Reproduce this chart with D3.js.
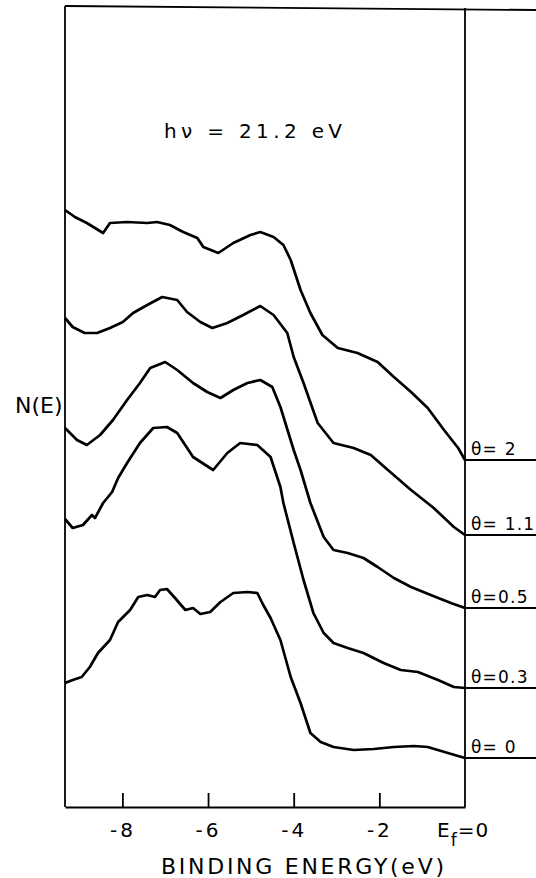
<!DOCTYPE html>
<html><head><meta charset="utf-8">
<script src="https://cdn.jsdelivr.net/npm/d3@7"></script>
<style>body{margin:0;background:#fff}svg{display:block}</style>
</head><body><div id="chart"></div>
<script>
// Binding energy (eV) and N(E) (arbitrary units, curves offset vertically)
const thetaLabels = ["θ= 2", "θ= 1.1", "θ=0.5", "θ=0.3", "θ= 0"];
const xTicks = [-8, -6, -4, -2];
const xTickLabels = ["-8", "-6", "-4", "-2"];

const theta2 = [[-9.34,597],[-9.11,590],[-8.83,584],[-8.45,574],[-8.29,584],[-7.89,585],[-7.42,584],[-7.19,585],[-6.89,582],[-6.58,575],[-6.25,569],[-6.11,560],[-5.76,554],[-5.41,564],[-5.01,572],[-4.78,575],[-4.47,570],[-4.24,562],[-4.07,547],[-3.84,517],[-3.61,494],[-3.33,472],[-2.97,459],[-2.51,454],[-2.04,445],[-1.66,430],[-1.26,415],[-0.87,399],[-0.49,377],[-0.16,359],[0,347]];
const theta11 = [[-9.34,489],[-9.16,480],[-8.88,474],[-8.59,474],[-8.29,479],[-7.99,485],[-7.75,494],[-7.42,502],[-7.07,510],[-6.72,507],[-6.49,495],[-6.18,485],[-5.90,479],[-5.55,484],[-5.18,492],[-4.78,501],[-4.47,492],[-4.15,474],[-4.00,450],[-3.77,424],[-3.44,384],[-3.07,364],[-2.60,359],[-2.20,352],[-1.80,337],[-1.26,317],[-0.73,299],[-0.26,280],[0,272]];
const theta05 = [[-9.34,379],[-9.06,367],[-8.83,362],[-8.52,372],[-8.22,387],[-7.89,407],[-7.59,424],[-7.35,439],[-7.00,445],[-6.72,437],[-6.35,424],[-6.02,415],[-5.71,409],[-5.41,417],[-5.08,424],[-4.78,427],[-4.50,420],[-4.31,400],[-4.00,357],[-3.84,337],[-3.61,304],[-3.30,270],[-3.07,257],[-2.74,254],[-2.37,249],[-2.04,240],[-1.66,229],[-1.26,220],[-0.80,212],[-0.33,204],[0,199]];
const theta03 = [[-9.34,288],[-9.16,279],[-8.92,282],[-8.71,292],[-8.64,289],[-8.45,304],[-8.24,315],[-8.10,329],[-7.89,344],[-7.59,364],[-7.28,379],[-6.96,380],[-6.72,374],[-6.35,350],[-5.88,337],[-5.55,354],[-5.25,364],[-4.85,362],[-4.54,350],[-4.31,320],[-4.24,304],[-4.00,264],[-3.77,227],[-3.54,194],[-3.30,174],[-3.07,164],[-2.74,159],[-2.37,154],[-1.90,144],[-1.50,137],[-1.10,135],[-0.63,127],[-0.26,120],[0,119]];
const theta0 = [[-9.34,124],[-9.16,127],[-8.95,130],[-8.76,140],[-8.57,154],[-8.29,167],[-8.10,185],[-7.82,197],[-7.63,210],[-7.42,212],[-7.24,210],[-7.12,217],[-6.96,218],[-6.77,209],[-6.53,197],[-6.35,199],[-6.18,193],[-5.95,195],[-5.71,205],[-5.41,214],[-5.08,215],[-4.85,214],[-4.71,202],[-4.54,189],[-4.31,167],[-4.07,130],[-3.84,104],[-3.61,74],[-3.37,65],[-3.07,60],[-2.60,57],[-2.13,58],[-1.66,60],[-1.19,61],[-0.87,60],[-0.40,54],[0,49]];
const seriesList = [theta2, theta11, theta05, theta03, theta0];

const W = 536, H = 878;
const svg = d3.select("#chart").append("svg").attr("width", W).attr("height", H);
const FONT = "'DejaVu Sans', sans-serif";

const x = d3.scaleLinear().domain([-9.34, 0]).range([65, 465]);
const y = d3.scaleLinear().domain([0, 800]).range([807, 7]);

// frame
const frame = svg.append("g").attr("stroke", "#000").attr("fill", "none").attr("stroke-width", 1.8);
frame.append("line").attr("x1", x(-9.34)).attr("x2", x(-9.34)).attr("y1", 6).attr("y2", y(0));
frame.append("line").attr("x1", x(-9.34)).attr("x2", W).attr("y1", 6).attr("y2", 10);
frame.append("line").attr("x1", x(0)).attr("x2", x(0)).attr("y1", 8).attr("y2", y(0));

// bottom axis
const axis = d3.axisBottom(x).tickValues(xTicks).tickSizeInner(-14).tickSizeOuter(0)
  .tickPadding(16).tickFormat((d, i) => xTickLabels[i]);
const gAx = svg.append("g").attr("transform", `translate(0,${y(0)})`).call(axis);
gAx.select(".domain").attr("stroke-width", 1.8);
gAx.selectAll(".tick line").attr("stroke-width", 1.8);
gAx.selectAll(".tick text").attr("font-family", FONT).attr("font-size", 20)
  .attr("letter-spacing", 3).attr("fill", "#000");

// E_f = 0 label
const ef = svg.append("text").attr("x", 437).attr("y", 837).attr("font-family", FONT).attr("font-size", 20).attr("letter-spacing", 1);
ef.append("tspan").text("E");
ef.append("tspan").attr("font-size", 17).attr("dy", 9).text("f");
ef.append("tspan").attr("dy", -9).text("=0");

svg.append("text").attr("x", 161).attr("y", 874)
  .attr("font-family", FONT).attr("font-size", 22).attr("textLength", 283).attr("lengthAdjust", "spacing")
  .text("BINDING ENERGY(eV)");

svg.append("text").attr("x", 164).attr("y", 138)
  .attr("font-family", FONT).attr("font-size", 20).attr("textLength", 178).attr("lengthAdjust", "spacing")
  .text("hν = 21.2 eV");

svg.append("text").attr("x", 15).attr("y", 413)
  .attr("font-family", FONT).attr("font-size", 22).text("N(E)");

// curves
const line = d3.line().x(d => x(d[0])).y(d => y(d[1])).curve(d3.curveLinear);
svg.append("g").selectAll("path").data(seriesList).join("path")
  .attr("d", line).attr("fill", "none").attr("stroke", "#000")
  .attr("stroke-width", 2.7).attr("stroke-linejoin", "round");

// baselines and labels on the right
const lab = svg.append("g");
seriesList.forEach((s, i) => {
  const last = s[s.length - 1];
  lab.append("line").attr("x1", x(last[0])).attr("x2", W)
    .attr("y1", y(last[1])).attr("y2", y(last[1])).attr("stroke", "#000").attr("stroke-width", 1.8);
  lab.append("text").attr("x", x(last[0]) + 6).attr("y", y(last[1]) - 5)
    .attr("font-family", FONT).attr("font-size", 17).attr("letter-spacing", 1.2).text(thetaLabels[i]);
});
</script>
</body></html>
